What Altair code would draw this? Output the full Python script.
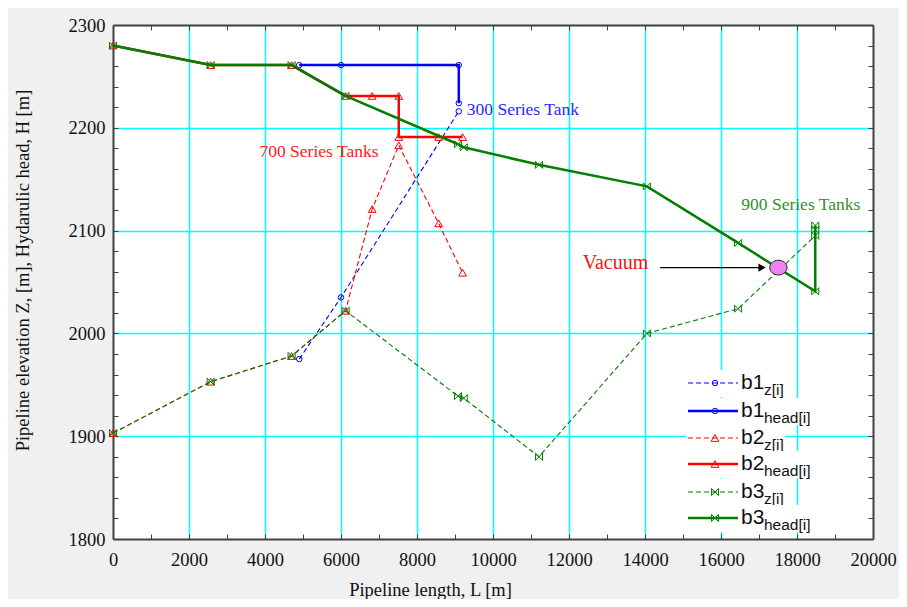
import altair as alt
import pandas as pd

# ---------------- data ----------------
b1_z_L = [4900, 6000, 9100]
b1_z = [1975, 2035, 2216]
b1_head_L = [4900, 6000, 9100, 9100]
b1_head = [2261, 2261, 2261, 2224]

b2_z_L = [0, 2570, 4700, 6120, 6820, 7520, 8570, 9200]
b2_z = [1903, 1953, 1978, 2022, 2121, 2183, 2107, 2059]
b2_head_L = [0, 2570, 4700, 6120, 6820, 7520, 7520, 8570, 9200]
b2_head = [2280, 2261, 2261, 2231, 2231, 2231, 2191, 2191, 2191]

b3_z_L = [0, 2570, 4700, 6120, 9080, 9230, 11210, 14050, 16450, 18480, 18480]
b3_z = [1903, 1953, 1978, 2022, 1939, 1937, 1880, 2000, 2024, 2095, 2101]
b3_head_L = [0, 2570, 4700, 6120, 9080, 9230, 11210, 14050, 16450, 18480, 18480]
b3_head = [2280, 2261, 2261, 2231, 2184, 2181, 2164, 2143, 2088, 2041, 2105]

vacuum_L = [17510]
vacuum_H = [2064]
arrow_L = [14400]
arrow_L2 = [17010]
arrow_head_L = [17080]
arrow_H = [2064]

ann_text = ["300 Series Tank", "700 Series Tanks", "900 Series Tanks", "Vacuum"]
ann_L = [9310, 5420, 18100, 12360]
ann_H = [2217, 2176, 2125, 2068]

legend_base = ["b1", "b1", "b2", "b2", "b3", "b3"]
legend_sub = ["z[i]", "head[i]", "z[i]", "head[i]", "z[i]", "head[i]"]

x_ticks = list(range(0, 20001, 1000))
y_ticks = list(range(1800, 2301, 20))

# ---------------- styles / layout ----------------
SERIF = "Liberation Serif"
SANS = "Liberation Sans"
BLUE, RED, GREEN = "#0000ff", "#ff0000", "#007f00"
BOWTIE = "M-1,-1L-1,1L1,-1L1,1Z"
DASH = [5, 3]
AX_COL = "#404040"

series = [
    # L, values, color, dashed, shape, size
    (b1_z_L, b1_z, BLUE, True, "circle", 30),
    (b1_head_L, b1_head, BLUE, False, "circle", 30),
    (b2_z_L, b2_z, RED, True, "triangle-up", 60),
    (b2_head_L, b2_head, RED, False, "triangle-up", 60),
    (b3_z_L, b3_z, GREEN, True, BOWTIE, 50),
    (b3_head_L, b3_head, GREEN, False, BOWTIE, 50),
]

xscale = alt.Scale(domain=[0, 20000], nice=False, zero=False)
yscale = alt.Scale(domain=[1800, 2300], nice=False, zero=False)

common_axis = dict(
    labelFont=SERIF, labelFontSize=18.5, labelColor="#111111",
    titleFont=SERIF, titleFontSize=18.5, titleColor="#111111", titleFontWeight="normal",
    domainColor=AX_COL, domainWidth=2, tickColor=AX_COL, tickWidth=1,
    tickSize={"expr": "-5"}, labelOverlap=False, labelFlush=False, labelBound=False,
)

xaxis = alt.Axis(
    values=x_ticks, format="d", orient="bottom",
    labelExpr="datum.value % 2000 === 0 ? datum.label : ''",
    grid=True, gridColor="#00ffff", gridWidth=1.5,
    gridOpacity={"condition": {"test": "datum.value % 2000 === 0 && datum.value > 0 && datum.value < 20000", "value": 1}, "value": 0},
    labelPadding=16, title="Pipeline length, L [m]",
    titleX=317, titleY=50, titleAlign="center", titleBaseline="middle",
    **common_axis,
)
yaxis = alt.Axis(
    values=y_ticks, format="d", orient="left",
    labelExpr="datum.value % 100 === 0 ? datum.label : ''",
    grid=True, gridColor="#00ffff", gridWidth=1.5,
    gridOpacity={"condition": {"test": "datum.value % 100 === 0 && datum.value > 1800 && datum.value < 2300", "value": 1}, "value": 0},
    labelPadding=13, title="Pipeline elevation Z, [m], Hydarulic head, H [m]",
    titleX=-91, titleY=245, titleAngle=270, titleAlign="center", titleBaseline="middle",
    **common_axis,
)


def X(field="L"):
    return alt.X(f"{field}:Q", scale=xscale, axis=xaxis)


def Y(field="v"):
    return alt.Y(f"{field}:Q", scale=yscale, axis=yaxis)


layers = []
for L, v, col, dashed, shape, size in series:
    df = pd.DataFrame({"L": L, "v": v, "seq": list(range(len(L)))})
    line_kw = dict(color=col, strokeWidth=1.1 if dashed else 2.5)
    if dashed:
        line_kw["strokeDash"] = DASH
    layers.append(alt.Chart(df).mark_line(**line_kw).encode(x=X(), y=Y(), order="seq:Q"))
    layers.append(alt.Chart(df).mark_point(shape=shape, filled=False, color=col, size=size,
                                           strokeWidth=1, opacity=1).encode(x=X(), y=Y()))

# annotations
ann_style = [
    dict(color="#2a2aff", fontSize=17.5, align="left"),
    dict(color="#ff2020", fontSize=17.5, align="center"),
    dict(color="#2f8f2f", fontSize=17.5, align="center"),
    dict(color="#ff1010", fontSize=20, align="left"),
]
for t, l, h, st in zip(ann_text, ann_L, ann_H, ann_style):
    df = pd.DataFrame({"L": [l], "v": [h], "t": [t]})
    layers.append(alt.Chart(df).mark_text(font=SERIF, baseline="middle", **st)
                  .encode(x=X(), y=Y(), text="t:N"))

# arrow to vacuum point
arr = pd.DataFrame({"L": arrow_L, "L2": arrow_L2, "v": arrow_H})
layers.append(alt.Chart(arr).mark_rule(color="#000000", strokeWidth=1.3)
              .encode(x=X(), x2="L2:Q", y=Y()))
arrh = pd.DataFrame({"L": arrow_head_L, "v": arrow_H})
layers.append(alt.Chart(arrh).mark_point(shape="triangle-right", filled=True, color="#000000",
                                         size=70, opacity=1).encode(x=X(), y=Y()))

# vacuum marker (ellipse)
vac = pd.DataFrame({"L": vacuum_L, "v": vacuum_H})
ELLIPSE = "M-1,0A1,0.85 0 1,1 1,0A1,0.85 0 1,1 -1,0Z"
layers.append(alt.Chart(vac).mark_point(shape=ELLIPSE, filled=True, fill="#ee82ee", stroke="#222222",
                                        strokeWidth=1, size=300, opacity=1).encode(x=X(), y=Y()))

# legend (drawn manually for subscripts)
dummy = pd.DataFrame({"a": [0]})
row_y = [358, 386, 413, 439, 467, 493]
for i, (base, sub) in enumerate(zip(legend_base, legend_sub)):
    _, _, col, dashed, shape, size = series[i]
    ry = row_y[i]
    xend = 672 if sub.startswith("z") else 703
    layers.append(alt.Chart(dummy).mark_rect(color="white").encode(
        x=alt.value(573), x2=alt.value(xend), y=alt.value(ry - 13), y2=alt.value(ry + 14)))
    rk = dict(color=col, strokeWidth=1.1 if dashed else 2.5)
    if dashed:
        rk["strokeDash"] = DASH
    layers.append(alt.Chart(dummy).mark_rule(**rk).encode(
        x=alt.value(575), x2=alt.value(625), y=alt.value(ry)))
    layers.append(alt.Chart(dummy).mark_point(shape=shape, filled=False, color=col, size=size,
                                              strokeWidth=1, opacity=1).encode(
        x=alt.value(602), y=alt.value(ry)))
    layers.append(alt.Chart(dummy).mark_text(text=base, font=SANS, fontSize=21, align="left",
                                             baseline="middle", color="#111111").encode(
        x=alt.value(628), y=alt.value(ry)))
    layers.append(alt.Chart(dummy).mark_text(text=sub, font=SANS, fontSize=15.5, align="left",
                                             baseline="middle", color="#111111").encode(
        x=alt.value(651), y=alt.value(ry + 7)))

content = alt.layer(*layers)

# secondary (top/right) axes with inward ticks only
frame_df = pd.DataFrame({"L": [0, 20000], "v": [1800, 2300]})
sec_common = dict(domainColor=AX_COL, domainWidth=2, tickColor=AX_COL, tickWidth=1,
                  tickSize={"expr": "-5"}, labels=False, grid=False, title=None)
top_axis = alt.Axis(values=x_ticks, orient="top", **sec_common)
right_axis = alt.Axis(values=y_ticks, orient="right", **sec_common)
frame = alt.Chart(frame_df).mark_point(opacity=0).encode(
    x=alt.X("L:Q", scale=xscale, axis=top_axis),
    y=alt.Y("v:Q", scale=yscale, axis=right_axis),
)

chart = alt.layer(content, frame).resolve_axis(x="independent", y="independent").properties(
    width=760, height=514,
    autosize=alt.AutoSizeParams(type="none"),
    padding={"left": 105, "top": 17, "right": 26, "bottom": 60},
    background="#f0f0f0",
).configure_view(fill="white", stroke=None)

chart.save("out.html", embed_options={"renderer": "svg", "actions": False})
